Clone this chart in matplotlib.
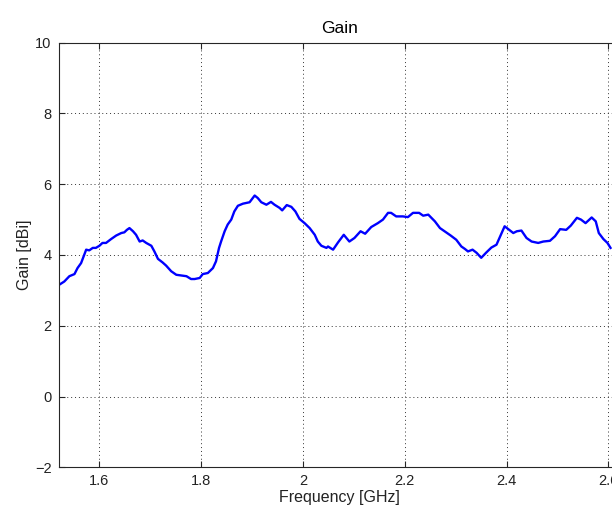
import numpy as np
import matplotlib.pyplot as plt

plt.rcParams['font.family'] = ['Liberation Sans', 'DejaVu Sans']

# gain curve (GHz, dBi)
freq = [1.518, 1.531, 1.541, 1.551, 1.557, 1.564, 1.569, 1.574, 1.580, 1.587,
        1.593, 1.600, 1.606, 1.613, 1.623, 1.633, 1.643, 1.649, 1.654, 1.659,
        1.666, 1.672, 1.679, 1.685, 1.692, 1.702, 1.708, 1.715, 1.724, 1.731,
        1.741, 1.751, 1.761, 1.771, 1.780, 1.787, 1.797, 1.803, 1.813, 1.823,
        1.829, 1.835, 1.839, 1.846, 1.852, 1.859, 1.865, 1.872, 1.882, 1.895,
        1.905, 1.911, 1.918, 1.928, 1.937, 1.944, 1.954, 1.959, 1.968, 1.977,
        1.985, 1.993, 2.003, 2.013, 2.023, 2.029, 2.036, 2.046, 2.049, 2.059,
        2.069, 2.080, 2.091, 2.101, 2.113, 2.122, 2.134, 2.147, 2.157, 2.167,
        2.173, 2.183, 2.196, 2.206, 2.216, 2.228, 2.236, 2.246, 2.259, 2.269,
        2.278, 2.290, 2.301, 2.311, 2.318, 2.324, 2.333, 2.341, 2.350, 2.360,
        2.370, 2.380, 2.388, 2.396, 2.405, 2.413, 2.420, 2.429, 2.439, 2.449,
        2.462, 2.472, 2.485, 2.495, 2.505, 2.517, 2.526, 2.538, 2.546, 2.555,
        2.567, 2.575, 2.581, 2.590, 2.598, 2.604]
gain = [3.13, 3.25, 3.40, 3.46, 3.63, 3.77, 3.96, 4.15, 4.13, 4.20,
        4.20, 4.26, 4.34, 4.34, 4.45, 4.55, 4.62, 4.64, 4.71, 4.76,
        4.67, 4.57, 4.38, 4.41, 4.34, 4.26, 4.10, 3.89, 3.79, 3.70,
        3.54, 3.44, 3.42, 3.40, 3.32, 3.32, 3.35, 3.46, 3.49, 3.63,
        3.82, 4.20, 4.38, 4.67, 4.86, 5.00, 5.23, 5.39, 5.45, 5.49,
        5.68, 5.61, 5.49, 5.42, 5.50, 5.42, 5.33, 5.26, 5.41, 5.36,
        5.23, 5.02, 4.90, 4.76, 4.57, 4.38, 4.26, 4.20, 4.24, 4.15,
        4.36, 4.57, 4.38, 4.48, 4.67, 4.60, 4.79, 4.90, 5.00, 5.19,
        5.19, 5.09, 5.09, 5.07, 5.19, 5.19, 5.11, 5.14, 4.95, 4.76,
        4.67, 4.55, 4.43, 4.24, 4.17, 4.10, 4.15, 4.06, 3.92, 4.07,
        4.21, 4.29, 4.55, 4.81, 4.71, 4.62, 4.67, 4.69, 4.48, 4.38,
        4.34, 4.38, 4.40, 4.53, 4.73, 4.71, 4.83, 5.05, 5.00, 4.90,
        5.06, 4.95, 4.62, 4.45, 4.34, 4.20]

xticks = [1.6, 1.8, 2.0, 2.2, 2.4, 2.6]
xticklabels = ['1.6', '1.8', '2', '2.2', '2.4', '2.6']
yticks = [-2, 0, 2, 4, 6, 8, 10]

txt = '#222222'

fig = plt.figure(figsize=(6.12, 5.14), dpi=100)
# axes runs past the right edge like the cropped original
ax = fig.add_axes([0.0959, 0.0909, 0.9188, 0.8261])
ax.plot(freq, gain, color=(0, 0, 1), lw=1.7)

ax.set_xlim(1.52, 2.6246)
ax.set_ylim(-2, 10)
ax.set_xticks(xticks)
ax.set_xticklabels(xticklabels)
ax.set_yticks(yticks)
ax.grid(True, color='#333333', linestyle=(0, (1, 3)), linewidth=0.7)
ax.tick_params(direction='in', top=True, right=True, length=4, labelsize=10.5,
               pad=5, colors='#262626', labelcolor=txt)
for s in ax.spines.values():
    s.set_linewidth(0.8)
    s.set_color('#262626')

ax.set_title('Gain', fontsize=12.5, pad=7, color='black')
ax.set_xlabel('Frequency [GHz]', fontsize=11.5, labelpad=1, color=txt)
ax.set_ylabel('Gain [dBi]', fontsize=11.5, labelpad=2, color=txt)

fig.savefig('out.png', dpi=100)
